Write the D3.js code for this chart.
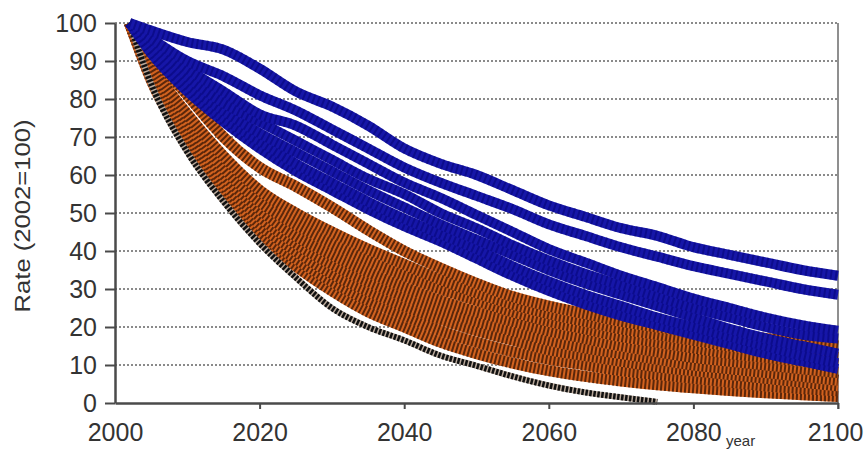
<!DOCTYPE html>
<html>
<head>
<meta charset="utf-8">
<script src="https://cdn.jsdelivr.net/npm/d3@7"></script>
<style>
  html, body { margin: 0; padding: 0; background: #ffffff; }
  svg { display: block; }
</style>
</head>
<body>
<svg id="chart" width="865" height="449"></svg>
<script>
// Sample years shared by every series (2002 is the index base year)
const years = [2002, 2005, 2010, 2015, 2020, 2025, 2030, 2035, 2040, 2045, 2050,
               2055, 2060, 2065, 2070, 2075, 2080, 2085, 2090, 2095, 2100];

const yTicks = [0, 10, 20, 30, 40, 50, 60, 70, 80, 90, 100];
const xTicks = [2000, 2020, 2040, 2060, 2080, 2100];

// Blue scenario paths (slower decline)
const blueA = [100, 98, 95, 93, 88, 82, 78, 73, 67, 63, 60, 56, 52, 49, 46, 44, 41, 39, 37, 35, 33.5];
const blueB = [100, 96, 90, 86, 81, 77, 72, 67, 62, 58, 54.5, 51, 47, 44, 41, 38.5, 36, 34, 32, 30, 28.5];
const blueC = [100, 96, 88, 82, 76, 73, 68, 63, 58, 54, 49.5, 45, 40.5, 37, 33.5, 30.5, 27.5, 25, 22.5, 20.5, 19];
const blueD = [100, 95, 86, 79, 74, 69, 64, 59, 55, 50, 46, 41.5, 37.5, 34, 31, 28, 25, 22.5, 20, 18, 17];
const blueE = [100, 94, 84, 77, 71, 66, 61, 56, 51.5, 47, 43, 39, 35, 31.5, 28.5, 25.5, 22.5, 19.5, 17, 15, 13];
const blueF = [100, 93, 83, 75, 69, 63, 58, 53, 48.5, 44.5, 40.5, 36, 32, 28.5, 25.5, 22.5, 20, 17.5, 15, 12.5, 10.5];
const blueG = [100, 92, 82, 74, 67, 61, 56, 51, 46.5, 42.5, 38, 33.5, 29.5, 26, 23, 20.5, 18, 15.5, 13, 11, 9];

// Orange scenario paths (faster decline)
const orange1 = [100, 92, 81, 70, 62, 57, 51.5, 45.5, 40, 35.5, 31.5, 28, 25.5, 23.5, 21.5, 20, 19, 18, 17, 16, 15];
const orange2 = [100, 89, 76, 65, 56, 50, 45, 40.5, 36.5, 32.5, 29, 26, 23.5, 21.5, 19.5, 18, 16.5, 15, 14, 13, 12];
const orange3 = [100, 88, 74, 62, 53, 47, 42, 37.5, 33.5, 30, 27, 24, 21.5, 19.5, 17.5, 16, 14.5, 13, 12, 11, 10];
const orange4 = [100, 87, 72, 60, 51, 44, 39, 34.5, 30.5, 27, 24, 21.5, 19, 17, 15, 13.5, 12, 11, 10, 9, 8];
const orange5 = [100, 87, 71, 58, 49, 42, 36.5, 32, 28, 24.5, 21.5, 19, 16.5, 14.5, 13, 11.5, 10, 9, 8, 7, 6];
const orange6 = [100, 86, 70, 57, 47, 40, 34, 29.5, 25.5, 22, 19, 16.5, 14, 12.5, 11, 9.5, 8.5, 7.5, 6.5, 5.5, 4.5];
const orange7 = [100, 86, 69, 56, 45, 38, 32, 27, 23, 19, 16, 13.5, 11.5, 10, 8.5, 7.5, 6.5, 5.5, 4.5, 3.8, 3.2];
const orange8 = [100, 85, 68, 54.5, 43.5, 36, 29.5, 24, 20, 16, 13, 10.5, 8.5, 7, 5.8, 4.8, 4, 3.3, 2.7, 2.2, 1.7];
// Lowest path, ends once it reaches zero
const orangeLow = [100, 84, 66, 53, 42, 33, 25, 20, 16.5, 12.5, 9.8, 7, 4.6, 2.8, 1.5, 0.3];

const blueSeries = [blueG, blueF, blueE, blueD, blueC, blueB, blueA];
const orangeSeries = [orange8, orange7, orange6, orange5, orange4, orange3, orange2, orange1];

const svg = d3.select("#chart");
const x = d3.scaleLinear().domain([2000, 2100]).range([115, 838]);
const y = d3.scaleLinear().domain([0, 100]).range([403, 23]);

const toPoints = vals => vals.map((v, i) => [years[i], v]);
const line = d3.line()
  .x(d => x(d[0]))
  .y(d => y(d[1]))
  .curve(d3.curveMonotoneX);

// Dotted horizontal gridlines
svg.append("g")
  .selectAll("line")
  .data(yTicks.filter(t => t > 0))
  .join("line")
  .attr("x1", x(2000)).attr("x2", x(2100))
  .attr("y1", d => y(d)).attr("y2", d => y(d))
  .attr("stroke", "#8a8a8a")
  .attr("stroke-width", 2)
  .attr("stroke-dasharray", "2 2");

// Right border of the plot area
svg.append("line")
  .attr("x1", x(2100)).attr("x2", x(2100))
  .attr("y1", y(100)).attr("y2", y(0) + 6)
  .attr("stroke", "#8f8f8f")
  .attr("stroke-width", 2);

// Orange group: orange stroke under a black marker texture
const og = svg.append("g");
orangeSeries.forEach(vals => {
  const d = line(toPoints(vals));
  og.append("path").attr("d", d).attr("fill", "none")
    .attr("stroke", "#d2621f").attr("stroke-width", 11);
  og.append("path").attr("d", d).attr("fill", "none")
    .attr("stroke", "#1c0800").attr("stroke-width", 11)
    .attr("stroke-opacity", 0.65)
    .attr("stroke-dasharray", "2 2");
});
{
  const d = line(toPoints(orangeLow));
  og.append("path").attr("d", d).attr("fill", "none")
    .attr("stroke", "#b9a89a").attr("stroke-width", 6);
  og.append("path").attr("d", d).attr("fill", "none")
    .attr("stroke", "#111").attr("stroke-width", 6)
    .attr("stroke-dasharray", "2.5 1.5");
}

// Blue group drawn on top
const bg = svg.append("g");
blueSeries.forEach(vals => {
  const d = line(toPoints(vals));
  bg.append("path").attr("d", d).attr("fill", "none")
    .attr("stroke", "#1616a8").attr("stroke-width", 10);
  bg.append("path").attr("d", d).attr("fill", "none")
    .attr("stroke", "#00006a").attr("stroke-width", 10)
    .attr("stroke-opacity", 0.45)
    .attr("stroke-dasharray", "2 3");
});

// Axes
const fontFam = "'Liberation Sans', Arial, sans-serif";
const yAxis = svg.append("g")
  .attr("transform", `translate(${x(2000)},0)`)
  .call(d3.axisLeft(y).tickValues(yTicks).tickSize(10).tickPadding(8).tickSizeOuter(0));
const xAxis = svg.append("g")
  .attr("transform", `translate(0,${y(0)})`)
  .call(d3.axisBottom(x).tickValues(xTicks).tickFormat(d3.format("d"))
    .tickSize(6).tickPadding(14).tickSizeOuter(0));

[yAxis, xAxis].forEach(g => {
  g.select(".domain").attr("stroke", "#4a4a4a").attr("stroke-width", 2.5);
  g.selectAll(".tick line").attr("stroke", "#4a4a4a").attr("stroke-width", 2);
  g.selectAll(".tick text")
    .attr("fill", "#333")
    .style("font-family", fontFam)
    .style("font-size", "25px");
});
xAxis.selectAll(".tick").filter(d => d === 2000).select("line").remove();
xAxis.selectAll(".tick").filter(d => d === 2100).select("text").attr("dx", -3);

// Axis titles
svg.append("text")
  .attr("transform", "translate(30,216) rotate(-90)")
  .attr("text-anchor", "middle")
  .attr("fill", "#333")
  .attr("textLength", 193)
  .attr("lengthAdjust", "spacingAndGlyphs")
  .style("font-family", fontFam)
  .style("font-size", "22px")
  .text("Rate (2002=100)");

svg.append("text")
  .attr("x", 726).attr("y", 446)
  .attr("fill", "#333")
  .style("font-family", fontFam)
  .style("font-size", "15px")
  .text("year");
</script>
</body>
</html>
